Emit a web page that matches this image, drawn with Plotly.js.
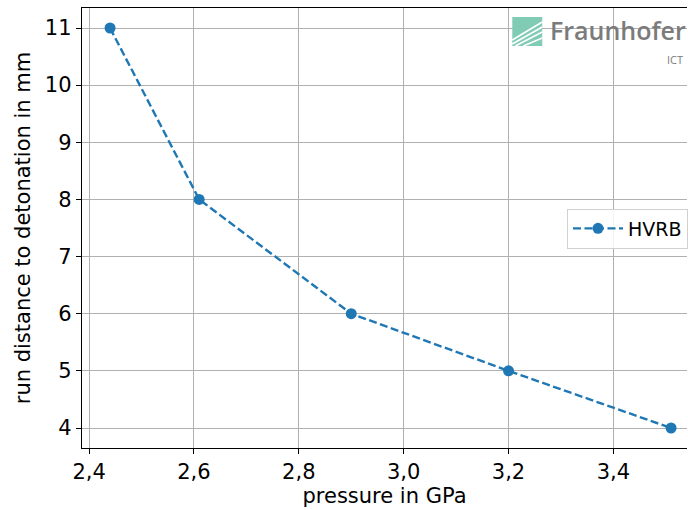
<!DOCTYPE html>
<html>
<head>
<meta charset="utf-8">
<script src="https://cdn.plot.ly/plotly-3.0.1.min.js"></script>
<style>
html,body{margin:0;padding:0;overflow:hidden;background:#fff;}
#chart{width:688px;height:510px;}
</style>
</head>
<body>
<div id="chart"></div>
<script>
// Data
const pressureGPa = [2.44, 2.61, 2.90, 3.20, 3.51];
const runDistanceMm = [11, 8, 6, 5, 4];
const seriesName = "HVRB";
const xTicks = [2.4, 2.6, 2.8, 3.0, 3.2, 3.4];
const yTicks = [4, 5, 6, 7, 8, 9, 10, 11];

const W = 688, H = 510;
const M = {l: 82, r: 0, t: 8, b: 62};
const PW = W - M.l - M.r, PH = H - M.t - M.b;
// pixel -> paper helpers (for logo placement only)
const px = v => (v - M.l) / PW;
const py = v => (H - M.b - v) / PH;

const font = "DejaVu Sans, sans-serif";
const blue = "#1f77b4";
const FS = 21;

const trace = {
  x: pressureGPa, y: runDistanceMm, name: seriesName,
  type: "scatter", mode: "lines+markers",
  line: {color: blue, width: 2.4, dash: "8px,3.5px"},
  marker: {color: blue, size: 11}
};

// Logo icon: square with white stripes
const shapes = [
  {type: "rect", xref: "paper", yref: "paper", x0: px(513), x1: px(543), y0: py(46), y1: py(17),
   fillcolor: "#7fcbb4", line: {width: 0}, layer: "above"}
];
const stripes = [[513,40,543,22],[513,44,543,27],[516,46,543,32],[524,46,543,38]];
stripes.forEach(s => shapes.push({type: "line", xref: "paper", yref: "paper",
  x0: px(s[0]), y0: py(s[1]), x1: px(s[2]), y1: py(s[3]),
  line: {color: "#ffffff", width: 1.6}, layer: "above"}));

const layout = {
  width: W, height: H,
  margin: M,
  paper_bgcolor: "#fff", plot_bgcolor: "#fff",
  separators: ", ",
  showlegend: true,
  font: {family: font, size: FS, color: "#000"},
  xaxis: {
    range: [2.3865, 2.4 + (W - 89.3) / 525],
    tickvals: xTicks, tickformat: ".1f",
    showgrid: true, gridcolor: "#b0b0b0", gridwidth: 1,
    showline: true, linecolor: "#000", linewidth: 1.2, mirror: true,
    ticks: "outside", ticklen: 5, tickwidth: 1, tickcolor: "#000",
    zeroline: false,
    tickfont: {family: font, size: FS},
    title: {text: "pressure in GPa", font: {family: font, size: FS}, standoff: 0}
  },
  yaxis: {
    range: [3.65, 11.35],
    tickvals: yTicks,
    showgrid: true, gridcolor: "#b0b0b0", gridwidth: 1,
    showline: true, linecolor: "#000", linewidth: 1.2, mirror: false,
    ticks: "outside", ticklen: 5, tickwidth: 1, tickcolor: "#000",
    zeroline: false,
    tickfont: {family: font, size: FS},
    title: {text: "run distance to detonation in mm", font: {family: font, size: FS}, standoff: 8}
  },
  legend: {
    x: px(567.5), y: py(228.5), xanchor: "left", yanchor: "middle",
    bgcolor: "rgba(255,255,255,0.85)", bordercolor: "#d0d0d0", borderwidth: 1,
    itemwidth: 50,
    font: {family: font, size: 19}
  },
  shapes: shapes,
  annotations: [
    {text: "Fraunhofer", xref: "paper", yref: "paper", x: px(549), y: py(49),
     xanchor: "left", yanchor: "bottom", showarrow: false,
     font: {family: "Open Sans, DejaVu Sans, sans-serif", size: 25, color: "#7b7b7b", weight: 600}},
    {text: "ICT", xref: "paper", yref: "paper", x: px(686), y: py(59),
     xanchor: "right", yanchor: "middle", showarrow: false,
     font: {family: "Open Sans, DejaVu Sans, sans-serif", size: 11, color: "#7b7b7b"}}
  ]
};

Plotly.newPlot("chart", [trace], layout, {displayModeBar: false, staticPlot: true});
</script>
</body>
</html>
